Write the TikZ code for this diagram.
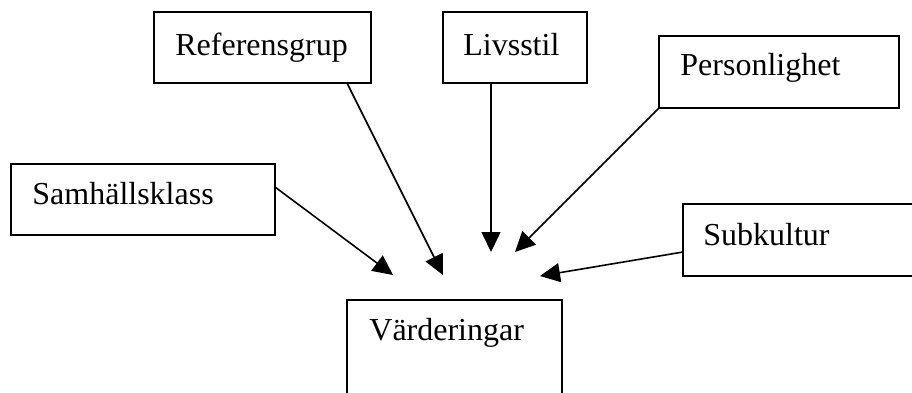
\documentclass[tikz,border=0pt]{standalone}
\usepackage{fontspec}
\setmainfont{Liberation Serif}
\usetikzlibrary{arrows.meta}
\begin{document}
\begin{tikzpicture}[x=0.5pt,y=-0.5pt,
  box/.style={draw,line width=1pt,rectangle,anchor=north west,inner sep=0pt,outer sep=0pt},
  label/.style={anchor=base west,inner sep=0pt,font=\fontsize{16}{19}\selectfont},
  link/.style={line width=0.8pt,-{Triangle[length=10pt,width=9.5pt]}}]
  \clip (0,0) rectangle (912,392);
  \fill[white] (0,0) rectangle (912,392);

  % boxes
  \node[box,minimum width=108.5pt,minimum height=35.5pt] (ref)  at (154,12)  {};
  \node[box,minimum width=72pt,minimum height=35.5pt]    (liv)  at (443,12)  {};
  \node[box,minimum width=120pt,minimum height=36pt]     (pers) at (659,36)  {};
  \node[box,minimum width=132pt,minimum height=35.5pt]   (sam)  at (11,164)  {};
  \node[box,minimum width=123.5pt,minimum height=36pt]   (sub)  at (683,204) {};
  \node[box,minimum width=107.5pt,minimum height=60pt]   (var)  at (347,300) {};

  % labels
  \node[label] (refT)  at (175,55)  {Referensgrup};
  \node[label] (livT)  at (463,55)  {Livsstil};
  \node[label] (persT) at (680,75)  {Personlighet};
  \node[label] (samT)  at (32,204)  {Samhällsklass};
  \node[label] (subT)  at (703,245) {Subkultur};
  \node[label] (varT)  at (369,340) {Värderingar};

  % arrow ends above the target box
  \coordinate (tSam)  at (393,275);
  \coordinate (tRef)  at (443,275);
  \coordinate (tLiv)  at (491,252);
  \coordinate (tPers) at (515,252);
  \coordinate (tSub)  at (540,276);

  \draw[link] ([yshift=6.25pt]sam.east) -- (tSam);
  \draw[link] ([xshift=-12pt]ref.south east) -- (tRef);
  \draw[link] ([xshift=-12pt]liv.south) -- (tLiv);
  \draw[link] (pers.south west) -- (tPers);
  \draw[link] ([yshift=-6pt]sub.west) -- (tSub);
\end{tikzpicture}
\end{document}
